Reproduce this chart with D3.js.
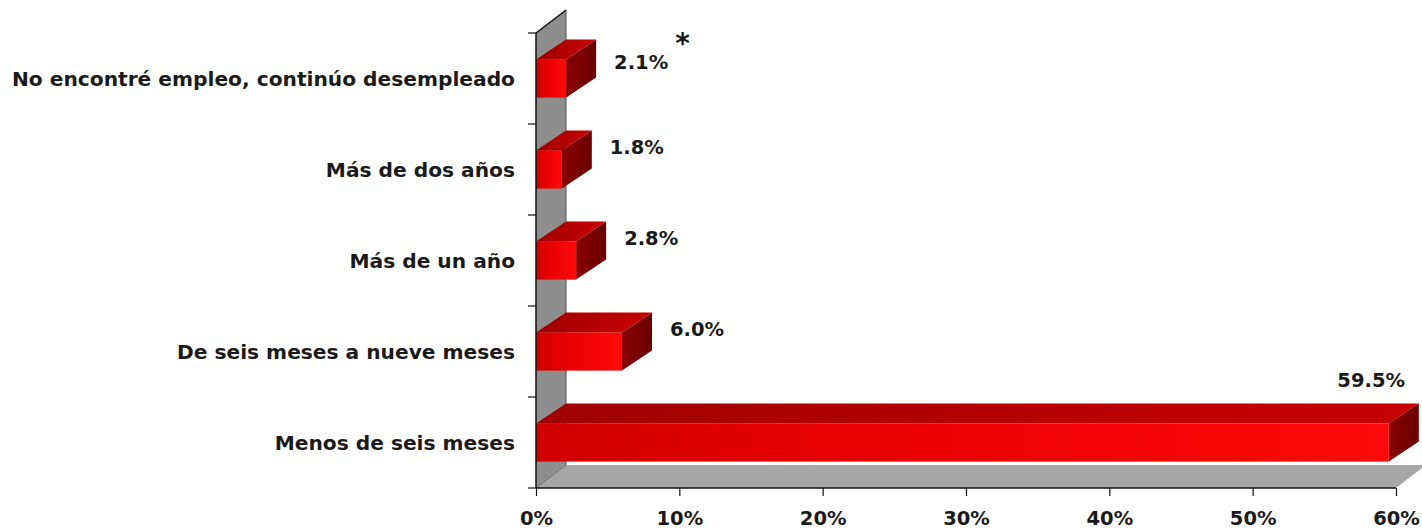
<!DOCTYPE html>
<html>
<head>
<meta charset="utf-8">
<script src="https://cdn.jsdelivr.net/npm/d3@7"></script>
<style>
  html, body { margin: 0; padding: 0; background: #fff; }
  svg { display: block; }
  text { font-family: "DejaVu Sans", sans-serif; fill: #1a1a1a; }
</style>
</head>
<body>
<svg id="chart" width="1422" height="530"></svg>
<script>
// Time taken to find a job (share of respondents)
const categories = [
  "No encontré empleo, continúo desempleado",
  "Más de dos años",
  "Más de un año",
  "De seis meses a nueve meses",
  "Menos de seis meses"
];
const values = [0.021, 0.018, 0.028, 0.060, 0.595];
const valueLabels = ["2.1%", "1.8%", "2.8%", "6.0%", "59.5%"];
const noteMark = "*";           // footnote marker next to the first value
const xTicks = [0, 0.1, 0.2, 0.3, 0.4, 0.5, 0.6];

const W = 1422, H = 530;
const svg = d3.select("#chart");

const plot = { left: 536, right: 1396, top: 33, bottom: 488 };
const wallDepth = { dx: 30, dy: -23 };
const barDepth = { dx: 30, dy: -20 };

const x = d3.scaleLinear().domain([0, 0.6]).range([plot.left, plot.right]);
const y = d3.scaleBand().domain(categories)
  .range([plot.top, plot.bottom])
  .paddingInner(0.58).paddingOuter(0.29);

// gradients
const defs = svg.append("defs");
function hGrad(id, stops) {
  const g = defs.append("linearGradient").attr("id", id)
    .attr("x1", 0).attr("y1", 0).attr("x2", 1).attr("y2", 0);
  stops.forEach(([o, c]) => g.append("stop").attr("offset", o).attr("stop-color", c));
}
hGrad("frontGrad", [[0, "#d00000"], [0.35, "#e80000"], [1, "#ff0a0a"]]);
hGrad("topGrad", [[0, "#a00000"], [1, "#c80000"]]);
hGrad("sideGrad", [[0, "#8a0000"], [1, "#6a0000"]]);

const pts = a => a.map(p => p.join(",")).join(" ");

// back wall (left side panel)
const x0 = x(0);
svg.append("polygon")
  .attr("points", pts([[x0, plot.top], [x0 + wallDepth.dx, plot.top + wallDepth.dy],
                       [x0 + wallDepth.dx, plot.bottom + wallDepth.dy], [x0, plot.bottom]]))
  .attr("fill", "#8e8e8e").attr("stroke", "none");
svg.append("line")
  .attr("x1", x0 + wallDepth.dx).attr("y1", plot.top + wallDepth.dy)
  .attr("x2", x0 + wallDepth.dx).attr("y2", plot.bottom + wallDepth.dy)
  .attr("stroke", "#555").attr("stroke-width", 1);
svg.append("line")
  .attr("x1", x0).attr("y1", plot.top)
  .attr("x2", x0 + wallDepth.dx).attr("y2", plot.top + wallDepth.dy)
  .attr("stroke", "#111").attr("stroke-width", 1.5);

// floor
const xEnd = x(0.6);
svg.append("polygon")
  .attr("points", pts([[x0, plot.bottom], [x0 + wallDepth.dx, plot.bottom + wallDepth.dy],
                       [xEnd + wallDepth.dx, plot.bottom + wallDepth.dy], [xEnd, plot.bottom]]))
  .attr("fill", "#a6a6a6").attr("stroke", "none");
svg.append("line")
  .attr("x1", x0).attr("y1", plot.bottom)
  .attr("x2", x0 + wallDepth.dx).attr("y2", plot.bottom + wallDepth.dy)
  .attr("stroke", "#6e6e6e").attr("stroke-width", 1);

// bars
const bars = svg.append("g").selectAll("g").data(categories).join("g");
bars.each(function (c, i) {
  const g = d3.select(this);
  const yt = y(c), yb = y(c) + y.bandwidth();
  const xr = x(values[i]);
  const { dx, dy } = barDepth;
  g.append("polygon")
    .attr("points", pts([[x0, yt], [x0 + dx, yt + dy], [xr + dx, yt + dy], [xr, yt]]))
    .attr("fill", "url(#topGrad)");
  g.append("polygon")
    .attr("points", pts([[xr, yt], [xr + dx, yt + dy], [xr + dx, yb + dy], [xr, yb]]))
    .attr("fill", "url(#sideGrad)");
  g.append("rect")
    .attr("x", x0).attr("y", yt).attr("width", xr - x0).attr("height", yb - yt)
    .attr("fill", "url(#frontGrad)");
});

// axes lines
svg.append("line")
  .attr("x1", x0).attr("y1", plot.top).attr("x2", x0).attr("y2", plot.bottom)
  .attr("stroke", "#111").attr("stroke-width", 1.5);
svg.append("line")
  .attr("x1", x0).attr("y1", plot.bottom).attr("x2", xEnd).attr("y2", plot.bottom)
  .attr("stroke", "#111").attr("stroke-width", 1.5);

// category axis ticks at band boundaries
const bounds = categories.map(c => y(c) - y.step() * y.paddingInner() / 2).concat([plot.bottom]);
svg.append("g").selectAll("line").data(bounds).join("line")
  .attr("x1", x0 - 8).attr("x2", x0).attr("y1", d => d).attr("y2", d => d)
  .attr("stroke", "#111").attr("stroke-width", 1.2);

// category labels
svg.append("g").selectAll("text").data(categories).join("text")
  .attr("x", 515)
  .attr("y", c => y(c) + y.bandwidth() / 2 + 7)
  .attr("text-anchor", "end")
  .attr("font-size", 20.2).attr("font-weight", "bold")
  .text(c => c);

// value axis
const xAxis = d3.axisBottom(x).tickValues(xTicks)
  .tickFormat(d3.format(".0%")).tickSize(8).tickPadding(15);
const ax = svg.append("g").attr("transform", `translate(0,${plot.bottom})`).call(xAxis);
ax.select(".domain").remove();
ax.selectAll(".tick line").attr("stroke", "#111").attr("stroke-width", 1.2);
ax.selectAll(".tick text")
  .attr("font-family", "DejaVu Sans").attr("font-size", 19.5).attr("font-weight", "bold")
  .attr("fill", "#1a1a1a");

// value labels
const labels = svg.append("g");
categories.forEach((c, i) => {
  const cy = y(c) + y.bandwidth() / 2;
  const t = labels.append("text")
    .attr("font-size", 19.5).attr("font-weight", "bold")
    .text(valueLabels[i]);
  let lx = x(values[i]) + 48;
  let ly = Math.max(cy - 16, 69);
  t.attr("x", lx).attr("y", ly);
  const w = t.node().getComputedTextLength();
  if (lx + w > W - 10) {
    t.attr("text-anchor", "end").attr("x", W - 17)
      .attr("y", y(c) + barDepth.dy - 16);
  }
  if (i === 0) {
    labels.append("text")
      .attr("x", lx + w + 7).attr("y", ly - 16)
      .attr("font-size", 28).attr("font-weight", "bold")
      .text(noteMark);
  }
});
</script>
</body>
</html>
